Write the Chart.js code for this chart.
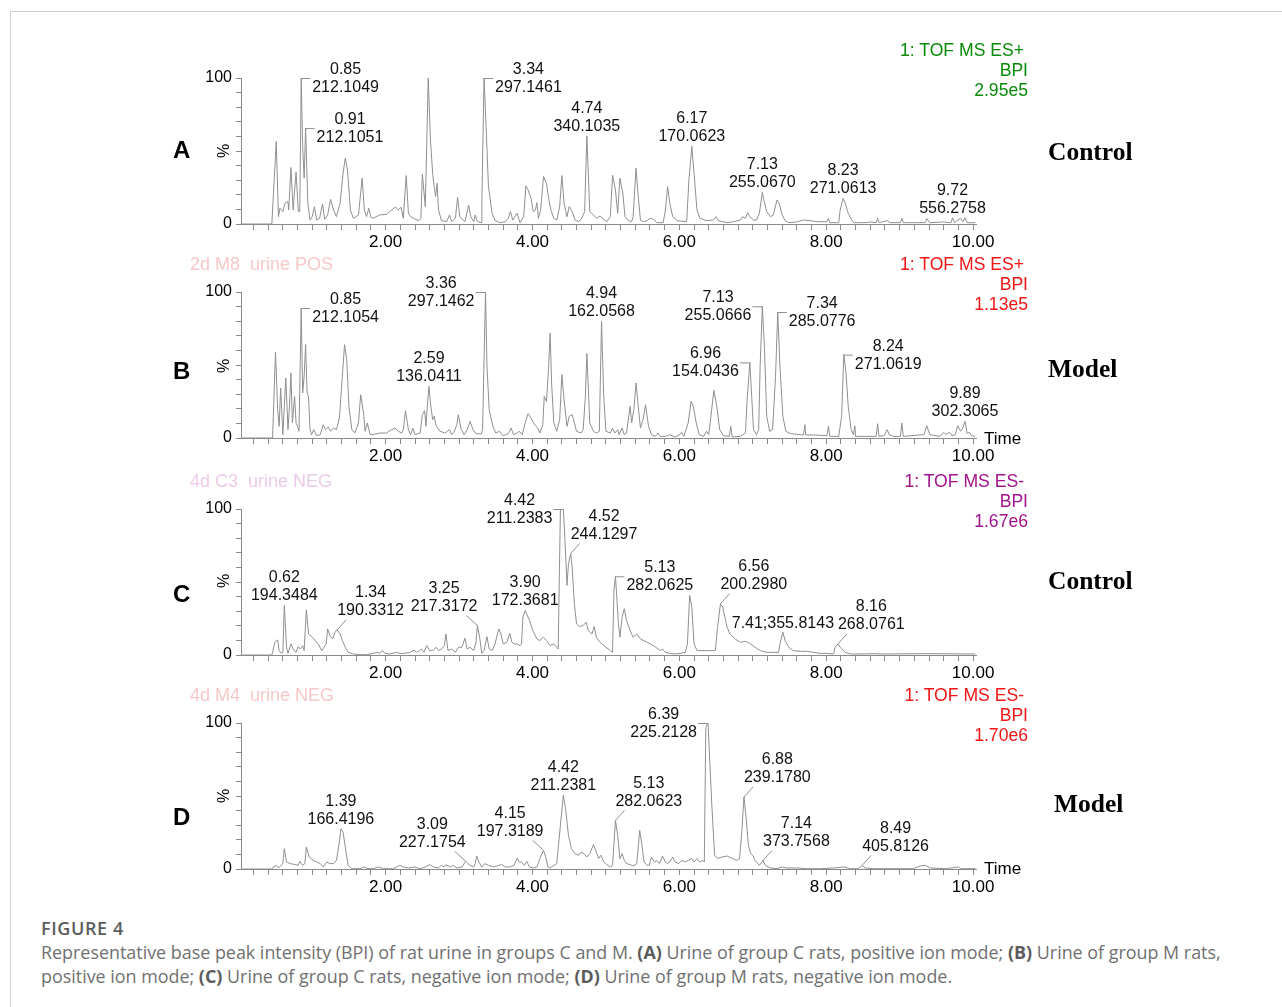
<!DOCTYPE html>
<html>
<head>
<meta charset="utf-8">
<title>Figure 4 – BPI chromatograms of rat urine</title>
<script src="https://cdn.jsdelivr.net/npm/chart.js@4.4.1/dist/chart.umd.min.js"></script>
<style>
  html, body { margin: 0; padding: 0; background: #fff; }
  body { width: 1282px; height: 1007px; position: relative; overflow: hidden;
         font-family: "Liberation Sans", Arial, sans-serif; }
  .frame { position: absolute; left: 10px; top: 11px; width: 1300px; height: 1020px;
           border-top: 1px solid #d2d2d2; border-left: 1px solid #d2d2d2; }
  canvas { position: absolute; left: 0; }
  .t { position: absolute; white-space: pre; line-height: 1; transform: translateY(-50%); }
  .letter { font: bold 24px "Liberation Sans", Arial, sans-serif; color: #000; }
  .group { font: bold 25.5px "Liberation Serif", "Times New Roman", serif; color: #000; }
  .pct { position: absolute; font: 16px "Liberation Sans", Arial, sans-serif; color: #000;
         transform: translate(-50%, -50%) rotate(-90deg); line-height: 1; }
  .inst { position: absolute; right: 254px; text-align: right; font: 17.6px "Liberation Sans", Arial, sans-serif;
          line-height: 20px; }
  .inst span { padding-right: 4px; }
  .sample { font: 18px "Liberation Sans", Arial, sans-serif; }
  .timelbl { font: 17px "Liberation Sans", Arial, sans-serif; color: #000; }
  .caption-head { position: absolute; left: 41px; top: 918px; font: 600 18px "Open Sans", sans-serif;
                  letter-spacing: 0.6px; color: #5c5c5c; line-height: 20px; }
  .caption { position: absolute; left: 41px; top: 941px; font: 17.9px "Open Sans", sans-serif;
             color: #707070; line-height: 23.5px; white-space: nowrap; }
  .caption b { font-weight: 700; color: #5c5c5c; }
</style>
</head>
<body>
<div class="frame"></div>

<canvas id="chartA" width="1282" height="206" style="top:54px"></canvas>
<canvas id="chartB" width="1282" height="206" style="top:268px"></canvas>
<canvas id="chartC" width="1282" height="206" style="top:485px"></canvas>
<canvas id="chartD" width="1282" height="206" style="top:699px"></canvas>

<!-- panel letters -->
<div class="t letter" style="left:173px;top:150px">A</div>
<div class="t letter" style="left:173px;top:371px">B</div>
<div class="t letter" style="left:173px;top:594px">C</div>
<div class="t letter" style="left:173px;top:817px">D</div>

<!-- y-axis unit -->
<div class="pct" style="left:224px;top:151px">%</div>
<div class="pct" style="left:224px;top:366px">%</div>
<div class="pct" style="left:224px;top:581px">%</div>
<div class="pct" style="left:224px;top:796px">%</div>

<!-- group names -->
<div class="t group" style="left:1048px;top:152px">Control</div>
<div class="t group" style="left:1048px;top:369px">Model</div>
<div class="t group" style="left:1048px;top:581px">Control</div>
<div class="t group" style="left:1054px;top:804px">Model</div>

<!-- acquisition function / trace type / full-scale intensity -->
<div class="inst" style="top:40px;color:#0a8a0a"><span>1: TOF MS ES+</span><br>BPI<br>2.95e5</div>
<div class="inst" style="top:254px;color:#f21616"><span>1: TOF MS ES+</span><br>BPI<br>1.13e5</div>
<div class="inst" style="top:471px;color:#a0148c"><span>1: TOF MS ES-</span><br>BPI<br>1.67e6</div>
<div class="inst" style="top:685px;color:#f21616"><span>1: TOF MS ES-</span><br>BPI<br>1.70e6</div>

<!-- sample names -->
<div class="t sample" style="left:190px;top:264px;color:#f7c8c8">2d M8  urine POS</div>
<div class="t sample" style="left:190px;top:481px;color:#eccbe8">4d C3  urine NEG</div>
<div class="t sample" style="left:190px;top:695px;color:#f7c8c8">4d M4  urine NEG</div>

<!-- x-axis name -->
<div class="t timelbl" style="left:984px;top:439px">Time</div>
<div class="t timelbl" style="left:984px;top:869px">Time</div>

<div class="caption-head">FIGURE 4</div>
<div class="caption">Representative base peak intensity (BPI) of rat urine in groups C and M. <b>(A)</b> Urine of group C rats, positive ion mode; <b>(B)</b> Urine of group M rats,<br>positive ion mode; <b>(C)</b> Urine of group C rats, negative ion mode; <b>(D)</b> Urine of group M rats, negative ion mode.</div>

<script>
// ---------------- data ----------------
// Retention time (min) and relative intensity (%) of each BPI trace.

// A: group C, positive ion mode
const rtA = [0.03,0.45,0.51,0.54,0.56,0.60,0.63,0.67,0.68,0.71,0.74,0.78,0.81,0.83,0.85,0.87,0.89,0.91,0.94,0.97,
  1.00,1.03,1.06,1.10,1.14,1.17,1.21,1.25,1.29,1.33,1.38,1.42,1.45,1.48,1.52,1.56,1.63,1.68,1.71,1.74,1.77,1.80,1.83,1.92,
  2.01,2.11,2.14,2.17,2.21,2.24,2.28,2.31,2.34,2.38,2.45,2.48,2.50,2.54,2.58,2.61,2.64,2.66,2.68,2.70,2.72,2.76,2.83,2.87,2.90,2.95,2.98,
  3.01,3.08,3.13,3.16,3.20,3.22,3.25,3.30,3.31,3.34,3.37,3.40,3.45,3.49,3.56,3.63,3.67,3.70,3.73,3.76,3.79,3.83,3.88,3.91,3.94,3.98,
  4.01,4.04,4.06,4.08,4.11,4.15,4.19,4.22,4.25,4.29,4.33,4.37,4.40,4.43,4.47,4.50,4.54,4.58,4.63,4.67,4.71,4.74,4.78,4.83,4.87,4.92,4.97,
  5.01,5.06,5.09,5.13,5.16,5.19,5.23,5.26,5.31,5.35,5.37,5.41,5.44,5.47,5.51,5.56,5.60,5.65,5.69,5.78,5.81,5.84,5.87,5.91,5.97,
  6.10,6.13,6.17,6.20,6.24,6.28,6.37,6.46,6.50,6.53,6.65,6.74,6.83,6.86,6.90,6.93,6.96,
  7.01,7.05,7.09,7.13,7.15,7.19,7.24,7.28,7.33,7.36,7.40,7.44,7.49,7.60,7.69,7.78,7.87,
  8.01,8.03,8.05,8.17,8.19,8.23,8.26,8.30,8.35,8.38,8.55,8.60,8.68,8.70,8.72,8.83,8.87,
  9.01,9.03,9.05,9.33,9.35,9.37,9.41,9.60,9.70,9.72,9.75,9.78,9.83,9.86,9.89,9.92,10.03];
const intA = [0,0,56.5,5,10.8,8.5,14.2,15.3,9.6,38.7,9.6,35.7,8.5,8.5,100,53,31.4,65.7,14.2,2.7,
  5,11.9,2.7,3.9,13.7,3.2,6.2,16.9,9.6,5,14.2,34.8,45.1,37.1,9.6,3.9,6.2,31.4,9.6,5,10.8,4.6,3.9,6.2,
  6.6,10.8,11.4,9.6,11.4,3.9,33.2,7.3,5,3.9,2.3,3.9,34.3,11.9,100,57.7,34.8,25.6,18.8,27.9,9.6,2.3,1.6,6.2,1.6,3.9,18.3,
  5,1.6,13,5,1.6,6.2,1.6,0.9,14.2,100,64.5,25.6,7.3,2.3,0.9,1.6,3.9,8.5,2.7,5,7.3,0.9,5,26.1,23.3,17.6,
  8.5,9.6,14.6,3.9,9.6,32.5,27.9,17.6,9.6,3.9,2.7,11.9,33.2,14.2,5,11.9,8.5,2.7,1.6,3.9,8.5,60.4,8.5,6.2,3.9,5.5,3.2,
  1.6,5,33.4,23.3,7.3,31.4,21.1,5,2.3,1.6,5,38.2,18.8,2.7,1.6,2.3,3.9,3.2,0.9,0.9,9.6,25.6,14.2,5,2.3,
  1.6,30.2,53.1,34.8,9.6,3.9,2.3,2.7,5,2.3,0.9,1.6,2.7,5,3.9,7.8,5,
  2.7,2.7,7.3,21.7,16.5,8.5,5,6.2,16.5,14.2,6.2,2.3,0.9,1.4,2.7,2.3,1.6,
  1.6,3.9,0.9,0.9,9.6,17.6,14.2,7.3,2.3,0.9,0.9,1.4,0.9,3.9,0.9,2.3,0.9,
  0.9,3.9,0.9,0.9,0.9,3.7,0.9,1.4,0.9,4.3,0.9,2.3,3.9,1.6,4.3,0.9,0.9];

// B: group M, positive ion mode
const rtB = [0.03,0.46,0.47,0.50,0.53,0.55,0.57,0.60,0.62,0.64,0.67,0.69,0.71,0.73,0.76,0.78,0.80,0.82,0.85,0.87,0.89,0.91,0.93,0.95,0.97,0.99,
  1.02,1.06,1.11,1.15,1.18,1.22,1.25,1.29,1.33,1.37,1.41,1.44,1.47,1.50,1.54,1.58,1.63,1.66,1.70,1.72,1.75,1.79,1.83,1.92,
  2.01,2.08,2.13,2.17,2.22,2.24,2.27,2.31,2.34,2.37,2.40,2.47,2.50,2.53,2.55,2.57,2.59,2.61,2.64,2.66,2.69,2.74,2.81,2.87,2.90,2.93,2.97,2.99,
  3.03,3.07,3.11,3.15,3.19,3.23,3.30,3.32,3.36,3.38,3.41,3.46,3.50,3.55,3.60,3.67,3.71,3.74,3.79,3.82,3.86,3.90,3.94,3.98,
  4.02,4.07,4.10,4.14,4.16,4.19,4.22,4.24,4.26,4.29,4.33,4.37,4.40,4.43,4.47,4.50,4.54,4.57,4.60,4.66,4.69,4.72,4.74,4.78,4.83,4.87,4.91,4.94,4.97,
  5.00,5.06,5.09,5.12,5.16,5.18,5.22,5.25,5.28,5.33,5.35,5.38,5.41,5.44,5.47,5.51,5.54,5.58,5.62,5.67,5.71,5.74,5.81,5.87,5.94,
  6.01,6.03,6.06,6.12,6.16,6.19,6.23,6.27,6.33,6.37,6.40,6.44,6.47,6.51,6.55,6.60,6.68,6.70,6.72,6.83,6.90,6.92,6.96,6.98,
  7.01,7.05,7.08,7.10,7.13,7.16,7.19,7.23,7.27,7.31,7.34,7.37,7.41,7.45,7.51,7.65,7.69,7.71,7.72,7.83,
  8.01,8.03,8.05,8.17,8.21,8.24,8.27,8.30,8.34,8.37,8.39,8.40,8.64,8.68,8.70,8.72,8.79,8.83,8.86,8.92,
  9.01,9.03,9.05,9.33,9.37,9.41,9.55,9.60,9.63,9.68,9.71,9.76,9.79,9.83,9.86,9.89,9.92,9.95,9.98,10.03];
const intB = [0,0,14.8,58.9,19.4,8,34.2,2.3,21.7,41.1,5.7,21.7,44.5,10.3,28.5,10.3,8,4.6,89,30.8,42.2,63.9,30.8,28.5,5.7,2.3,
  5.7,1.6,2.3,9.1,5.7,7.5,4.6,6.8,5.7,13.7,42.2,63.9,53.7,21.7,5.7,3.4,10.3,29.7,17.1,4.6,10.3,2.3,2.3,3.4,
  3.4,5.7,6.8,4.6,3.4,5.7,18.7,5.7,2.3,6.8,2.3,3.4,16,18.7,8,24,35.4,24,12.6,14.8,8,4.6,3.4,5.7,2.3,3.9,9.1,16,
  5.7,2.3,5.7,11.4,5.7,3,2.7,5.7,100,49.1,19.4,8,3.4,4.6,1.6,3,6.8,2.3,3.4,4.6,2.3,10.3,16.7,13.7,
  9.8,6.8,3.4,9.1,28.5,25.1,49.1,71.9,37.7,10.3,4.6,12.6,43.4,26.3,8,14.8,16,10.3,4.6,3.4,5.7,28.5,57.8,10.3,4.6,3.4,4.6,79.9,28.5,
  4.6,3.4,6.8,3.4,5.7,2.3,6.8,2.3,3.4,21.7,10.3,19.4,37.7,21.7,6.8,13.7,22.8,8,2.3,1.1,3.4,1.1,1.1,2.3,0.7,
  2.3,3.9,1.1,10.3,25.1,21.7,10.3,2.3,1.1,4.6,2.3,19.4,32.6,21.7,5.7,1.6,1.1,8,0.7,1.1,3.4,24,51.8,33.1,
  5.7,2.3,5.7,49.1,90.2,60.5,14.8,4.6,5.7,42.2,86.3,49.1,14.8,4.6,3,2.3,2.1,9.1,2.1,2.1,
  1.6,8,1.1,1.1,14.8,57.1,44.5,21.7,5.7,2.3,8.4,1.1,1.1,1.1,9.8,1.1,1.6,5.7,2.3,1.1,
  1.1,10.3,1.1,2.3,8.4,2.3,1.1,3.9,2.3,3.9,1.6,2.3,8.4,4.6,6.8,11.4,3,3.9,1.6,1.1];

// C: group C, negative ion mode
const rtC = [0.03,0.45,0.46,0.49,0.53,0.55,0.58,0.60,0.62,0.65,0.67,0.71,0.74,0.78,0.81,0.84,0.87,0.89,0.92,0.95,
  1.00,1.04,1.08,1.13,1.16,1.19,1.21,1.24,1.28,1.31,1.34,1.38,1.41,1.45,1.49,1.56,1.65,1.74,1.83,1.88,1.92,1.96,1.99,
  2.06,2.15,2.20,2.26,2.33,2.39,2.42,2.46,2.49,2.52,2.56,2.60,2.65,2.69,2.72,2.76,2.80,2.82,2.85,2.90,2.95,2.99,
  3.04,3.08,3.11,3.15,3.20,3.23,3.25,3.28,3.31,3.34,3.38,3.41,3.45,3.49,3.54,3.57,3.60,3.65,3.69,3.72,3.75,3.79,3.83,3.85,3.87,3.90,3.96,
  4.00,4.06,4.10,4.15,4.19,4.24,4.29,4.33,4.35,4.38,4.42,4.44,4.47,4.49,4.52,4.54,4.57,4.60,4.64,4.69,4.73,4.76,4.81,4.84,4.87,4.92,4.99,
  5.06,5.09,5.11,5.13,5.17,5.19,5.22,5.25,5.28,5.33,5.37,5.42,5.47,5.56,5.65,5.74,5.77,5.81,5.87,5.94,
  6.01,6.08,6.11,6.14,6.17,6.20,6.24,6.28,6.37,6.49,6.52,6.56,6.59,6.62,6.65,6.69,6.76,6.83,6.90,6.96,
  7.03,7.10,7.19,7.28,7.35,7.37,7.41,7.44,7.49,7.55,7.65,7.74,7.83,7.92,
  8.01,8.10,8.12,8.16,8.19,8.26,8.33,8.51,8.64,8.74,9.37,10.03];
const intC = [0,0,1.8,8.7,10.3,3,1.1,1.8,33.9,5.3,1.1,7.6,4.1,1.8,5.7,4.1,6.4,3,31,14.4,
  12.2,9.9,7.6,3,5.3,7.6,17.9,13.3,11,15.6,17.2,14.4,9.9,5.3,1.8,0.7,0.2,0.2,1.1,1.8,1.1,3,1.1,
  0.7,1.8,1.1,1.1,1.8,3.4,1.8,3,4.1,1.8,6.4,3,3.4,5.3,3,4.1,6.4,14.4,3,4.1,1.8,5.3,
  5.3,11.5,4.1,5.3,3,8.7,20.2,12.2,1.1,3,12.6,4.1,3,7.6,17.9,14.4,7.6,8.7,14.9,8.7,7.6,7.6,6.4,7.6,26,30.5,23.6,
  17.2,11,9.9,12.2,9.9,6.4,7.6,5.3,4.1,99.8,100,81,47.7,62.6,69.5,60.3,35.1,21.3,19.5,20.2,22.5,16.7,14.4,19.5,12.2,8.7,5.7,
  3,1.8,45,53.9,21.3,12.2,25.9,31.7,23.6,16.7,12.2,14.4,11,8.7,6.4,3,4.1,1.8,1.1,0.7,
  1.1,1.8,7.6,40.8,32.8,7.6,3,3,3,3,19,35.1,32.8,25.9,19,14.4,11,8.7,9.4,8,
  5.3,3,1.8,1.8,1.8,7.6,15.6,9.9,5.3,3,2.5,2.5,1.8,1.1,
  1.1,0.7,5.3,7.6,5.3,1.8,0.7,0.7,0.9,0.7,0.9,0.7];

// D: group M, negative ion mode
const rtD = [0.03,0.45,0.47,0.51,0.54,0.60,0.62,0.65,0.70,0.77,0.81,0.83,0.87,0.90,0.92,0.96,
  1.01,1.06,1.11,1.15,1.20,1.24,1.29,1.33,1.37,1.39,1.42,1.46,1.49,1.54,1.65,1.71,1.76,1.83,1.90,1.97,
  2.11,2.19,2.24,2.31,2.40,2.47,2.54,2.60,2.65,2.72,2.76,2.80,2.82,2.88,2.92,2.97,
  3.04,3.09,3.12,3.15,3.20,3.22,3.24,3.27,3.31,3.35,3.40,3.47,3.54,3.58,3.63,3.69,3.75,3.79,3.82,3.85,3.89,3.92,3.96,
  4.01,4.06,4.10,4.15,4.18,4.21,4.24,4.29,4.33,4.38,4.42,4.45,4.49,4.53,4.58,4.63,4.66,4.70,4.74,4.78,4.83,4.87,4.90,4.93,4.97,
  5.01,5.06,5.09,5.13,5.16,5.19,5.22,5.25,5.28,5.33,5.37,5.42,5.46,5.49,5.52,5.56,5.59,5.62,5.66,5.69,5.73,5.77,5.81,5.84,5.87,5.91,5.94,5.99,
  6.03,6.08,6.12,6.17,6.20,6.24,6.28,6.32,6.34,6.36,6.39,6.44,6.48,6.52,6.58,6.65,6.71,6.78,6.82,6.85,6.88,6.91,6.94,6.97,
  7.00,7.03,7.09,7.14,7.17,7.24,7.33,7.40,7.46,7.60,7.74,7.92,
  8.10,8.24,8.33,8.44,8.49,8.53,8.64,9.19,9.28,9.35,9.42,9.64,9.80,9.83,10.03];
const intD = [0,0,1.4,2.5,0.7,3.7,13.9,4.8,3.7,3,2.5,5.3,2.5,3.7,15.1,8.2,
  5.9,4.8,3.7,1.4,4.8,3.7,3.7,5.9,18.5,27.6,25.3,11.6,2.5,0.2,0.2,1.4,0.2,0.2,1.4,0.2,
  0.2,2.5,1.4,0.7,1.4,0.2,1.4,3,1.4,0.7,2.5,1.4,3,1.4,2.5,0.7,
  1.4,5.3,3.7,2.5,1.4,3.7,8.9,4.8,1.4,3.7,2.5,1.4,2.5,3,1.4,1.4,2.5,7.5,4.8,4.8,2.5,5.3,1.4,
  0.7,1.4,7.1,12.8,8.2,1.4,0.7,2.5,3.7,29.9,50.5,41.3,23.1,13.9,10.5,9.4,11.6,10.5,8.2,10.5,16.7,11.6,7.1,9.4,4.8,
  3,1.4,2.5,33.3,23.1,7.1,10.5,5.9,3.7,3,2.1,3.7,26.5,16.2,4.8,2.5,2.5,8.2,4.8,5.9,3.7,8.9,4.8,3.7,4.8,8.2,4.8,3.7,
  5.9,4.8,5.9,7.1,4.8,7.1,4.8,5.9,4.8,97,100,45.9,9.4,7.1,8.2,8.9,7.5,5.9,7.1,25.3,49.3,34.5,16.2,10.5,
  9.4,5.9,2.5,5.9,2.5,0.7,0.2,1.4,0.7,0.7,0.2,0.2,
  0.7,1.4,0.2,0.2,2.5,0.7,0.2,0.2,2.1,2.5,0.7,0.2,1.4,0.2,0.2];

// Annotated peaks: retention time and base peak m/z
const peakRtA = [0.85, 0.91, 3.34, 4.74, 6.17, 7.13, 8.23, 9.72];
const peakMzA = ['212.1049', '212.1051', '297.1461', '340.1035', '170.0623', '255.0670', '271.0613', '556.2758'];
const peakRtB = [0.85, 2.59, 3.36, 4.94, 6.96, 7.13, 7.34, 8.24, 9.89];
const peakMzB = ['212.1054', '136.0411', '297.1462', '162.0568', '154.0436', '255.0666', '285.0776', '271.0619', '302.3065'];
const peakRtC = [0.62, 1.34, 3.25, 3.90, 4.42, 4.52, 5.13, 6.56, 7.41, 8.16];
const peakMzC = ['194.3484', '190.3312', '217.3172', '172.3681', '211.2383', '244.1297', '282.0625', '200.2980', '355.8143', '268.0761'];
const peakRtD = [1.39, 3.09, 4.15, 4.42, 5.13, 6.39, 6.88, 7.14, 8.49];
const peakMzD = ['166.4196', '227.1754', '197.3189', '211.2381', '282.0623', '225.2128', '239.1780', '373.7568', '405.8126'];

// Axis ticks
const timeMajorTicks = [2, 4, 6, 8, 10];
const timeTickLabels = ['2.00', '4.00', '6.00', '8.00', '10.00'];
const pctLabelTicks = [0, 100];
const pctTickLabels = ['0', '100'];

// ---------------- drawing ----------------
const TRACE = '#8f8f8f';
const AXIS = '#8a8a8a';
const FONT = '"Liberation Sans", Arial, sans-serif';

// where each annotation sits relative to its peak apex
const placeA = ['right', 'right', 'right', 'above', 'above', 'above', 'above', 'above'];
const placeB = ['right', 'above', 'left', 'above', 'left', 'left', 'right', 'right', 'above'];
const placeC = ['above', 'upRight', 'upLeft', 'above', 'left', 'upRight', 'right', 'upRight', 'inline', 'upRight'];
const placeD = ['above', 'upLeft', 'upLeft', 'above', 'upRight', 'left', 'upRight', 'upRight', 'upRight'];

// minor x ticks every 0.2 min, y ticks every 10 %
const timeTicks = [];
for (let k = 1; k <= 50; k++) timeTicks.push(Math.round(k * 2) / 10);
const pctTicks = [];
for (let k = 0; k <= 10; k++) pctTicks.push(k * 10);

function peakPlugin(rts, mzs, places) {
  return {
    id: 'peakLabels',
    afterDatasetsDraw(chart) {
      const { ctx } = chart;
      const xs = chart.scales.x, ys = chart.scales.y;
      const pts = chart.data.datasets[0].data;
      ctx.save();
      ctx.font = '16px ' + FONT;
      ctx.fillStyle = '#111';
      ctx.strokeStyle = TRACE;
      ctx.lineWidth = 1;
      ctx.textBaseline = 'middle';
      ctx.textAlign = 'center';
      const leader = (x1, y1, x2, y2) => {
        ctx.beginPath(); ctx.moveTo(x1, y1); ctx.lineTo(x2, y2); ctx.stroke();
      };
      rts.forEach((rt, i) => {
        const apex = pts.reduce((a, b) => Math.abs(b.x - rt) < Math.abs(a.x - rt) ? b : a);
        const px = xs.getPixelForValue(rt);
        const py = ys.getPixelForValue(apex.y);
        const l1 = rt.toFixed(2), l2 = mzs[i];
        const w = Math.max(ctx.measureText(l1).width, ctx.measureText(l2).width);
        let cx = px, y1, y2;
        switch (places[i]) {
          case 'right':
            leader(px, py + 0.5, px + 9, py + 0.5);
            cx = px + 11 + w / 2; y1 = py - 8.5; y2 = py + 9.5; break;
          case 'left':
            leader(px, py + 0.5, px - 10, py + 0.5);
            cx = px - 11 - w / 2; y1 = py - 8.5; y2 = py + 9.5; break;
          case 'upRight':
            leader(px, py, px + 9, py - 10);
            cx = px + w / 2; y2 = py - 19; y1 = y2 - 18; break;
          case 'upLeft':
            leader(px, py, px - 11, py - 10);
            cx = px - w / 2; y2 = py - 19; y1 = y2 - 18; break;
          case 'inline':
            ctx.fillText(l1 + ';' + l2, px, py - 9);
            return;
          default:
            y2 = py - 9.5; y1 = y2 - 18;
        }
        ctx.fillText(l1, cx, y1);
        ctx.fillText(l2, cx, y2);
      });
      ctx.restore();
    }
  };
}

function makeChart(id, rt, inten, peakRt, peakMz, place) {
  const points = rt.map((t, i) => ({ x: t, y: inten[i] }));
  return new Chart(document.getElementById(id), {
    type: 'line',
    data: { datasets: [{ data: points, borderColor: TRACE, borderWidth: 1, pointRadius: 0, tension: 0, fill: false }] },
    options: {
      responsive: false, animation: false, devicePixelRatio: 1, events: [],
      layout: { padding: { left: 181, right: 306, top: 24, bottom: 6 } },
      plugins: { legend: { display: false }, tooltip: { enabled: false } },
      scales: {
        x: {
          type: 'linear', min: 0.03, max: 10.04,
          afterBuildTicks: s => { s.ticks = timeTicks.map(v => ({ value: v })); },
          afterFit: s => { s.height = 30; s.paddingLeft = 0; s.paddingRight = 0; },
          ticks: {
            autoSkip: false, maxRotation: 0, minRotation: 0, padding: 2, color: '#000',
            font: { family: FONT, size: 17 },
            callback: v => {
              const k = timeMajorTicks.findIndex(m => Math.abs(m - v) < 1e-6);
              return k >= 0 ? timeTickLabels[k] : '';
            }
          },
          grid: { drawOnChartArea: false, drawTicks: true, tickLength: 6, color: AXIS, tickColor: AXIS },
          border: { display: true, color: AXIS, width: 1 }
        },
        y: {
          min: 0, max: 100,
          afterBuildTicks: s => { s.ticks = pctTicks.map(v => ({ value: v })); },
          afterFit: s => { s.width = 60; s.paddingTop = 0; s.paddingBottom = 0; },
          ticks: {
            autoSkip: false, padding: 4, color: '#000',
            font: { family: FONT, size: 16 },
            callback: v => {
              const k = pctLabelTicks.indexOf(v);
              return k >= 0 ? pctTickLabels[k] : '';
            }
          },
          grid: { drawOnChartArea: false, drawTicks: true, tickLength: 5, color: AXIS, tickColor: AXIS },
          border: { display: true, color: AXIS, width: 1 }
        }
      }
    },
    plugins: [peakPlugin(peakRt, peakMz, place)]
  });
}

makeChart('chartA', rtA, intA, peakRtA, peakMzA, placeA);
makeChart('chartB', rtB, intB, peakRtB, peakMzB, placeB);
makeChart('chartC', rtC, intC, peakRtC, peakMzC, placeC);
makeChart('chartD', rtD, intD, peakRtD, peakMzD, placeD);
</script>
</body>
</html>
